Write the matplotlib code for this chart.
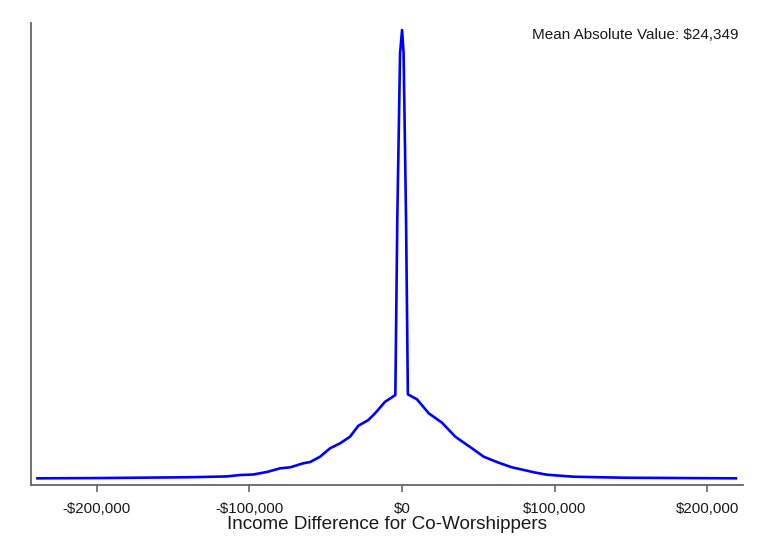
import numpy as np
import matplotlib.pyplot as plt
from matplotlib.ticker import FuncFormatter

plt.rcParams['font.family'] = ['Liberation Sans', 'DejaVu Sans']

# income difference (thousands of $) and density (arbitrary units)
diff = [-238.8, -197.8, -145.4, -132.3, -115.0, -106.1, -97.6, -88.6, -79.9, -73.3,
        -64.8, -60.2, -53.7, -47.2, -40.6, -34.1, -28.6, -22.1, -17.7, -11.1,
        -4.4, -3.1, -1.3, 0.0, 1.0, 2.6, 3.8,
        9.8, 17.5, 26.2, 34.9, 45.8, 53.5, 63.3, 72.0, 79.9, 86.4, 95.0,
        112.6, 132.3, 145.4, 218.7]
dens = [6.7, 7.0, 7.7, 8.0, 8.6, 10.0, 10.5, 13.0, 16.7, 17.7,
        21.7, 23.0, 28.3, 36.7, 41.7, 48.3, 59.3, 65.0, 71.7, 83.3,
        90.0, 268.0, 432.0, 455.0, 432.0, 268.0, 90.7,
        85.7, 71.7, 62.3, 48.3, 36.7, 28.3, 22.3, 17.7, 15.0, 12.7, 10.3,
        8.3, 7.7, 7.3, 6.7]
xticks = [-200, -100, 0, 100, 200]
note = 'Mean Absolute Value: $24,349'
xlabel = 'Income Difference for Co-Worshippers'

fig = plt.figure(figsize=(7.57, 5.54), dpi=100)
ax = fig.add_axes([0.0406, 0.1245, 0.9409, 0.8345])

ax.plot(np.array(diff), np.array(dens), color='#0000ff', lw=1.9, solid_joinstyle='round')

ax.set_xlim(-243.2, 223.3)
ax.set_ylim(0, 462.3)
ax.set_xticks(xticks)
ax.xaxis.set_major_formatter(FuncFormatter(
    lambda v, p: ('-' if v < 0 else '') + '${:,.0f}'.format(abs(v) * 1000)))
ax.set_yticks([])
ax.tick_params(axis='x', length=5, width=1.2, color='#666666', labelsize=10.8,
               labelcolor='#1a1a1a', pad=7)
for s in ['top', 'right']:
    ax.spines[s].set_visible(False)
for s in ['left', 'bottom']:
    ax.spines[s].set_color('#666666')
    ax.spines[s].set_linewidth(1.3)

ax.set_xlabel(xlabel, fontsize=13.6, color='#1a1a1a', labelpad=0)
ax.text(0.994, 0.973, note, transform=ax.transAxes, ha='right', va='center',
        fontsize=11, color='#1a1a1a')

fig.savefig('out.png', dpi=100)
